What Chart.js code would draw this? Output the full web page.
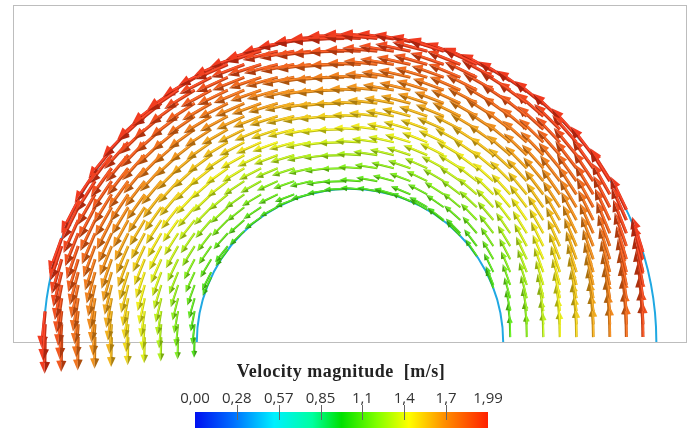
<!DOCTYPE html>
<html>
<head>
<meta charset="utf-8">
<script src="https://cdn.jsdelivr.net/npm/chart.js@4.4.1/dist/chart.umd.min.js"></script>
<style>
  body { margin: 0; background: #fff; }
  #wrap { position: relative; width: 696px; height: 430px; }
  #legendTitle {
    position: absolute; left: 221px; width: 240px; top: 362px; text-align: center;
    font: bold 18px "Liberation Serif"; line-height: 18px; letter-spacing: 0.5px; color: #222; white-space: pre;
  }
  .barLabel {
    position: absolute; top: 390px; width: 40px; margin-left: -20px; text-align: center;
    font: 15px "Open Sans"; line-height: 15px; color: #333;
  }
  #bar { position: absolute; left: 195px; top: 412px; width: 293px; height: 16px; }
  .barTick { position: absolute; top: 405px; width: 1px; height: 15px; background: #666; }
</style>
</head>
<body>
<div id="wrap">
  <canvas id="mainChart" width="696" height="430"></canvas>
  <div id="legendTitle">Velocity magnitude  [m/s]</div>
  <div id="bar"></div>
</div>
<script>
// glyph sample grid (chart units, outer wall radius = 1)
const gridX = [-0.995, -0.941, -0.887, -0.832, -0.778, -0.724, -0.670, -0.616, -0.561, -0.507,
               -0.453, -0.399, -0.345, -0.290, -0.236, -0.182, -0.128, -0.074, -0.019, 0.035,
               0.089, 0.143, 0.197, 0.252, 0.306, 0.360, 0.414, 0.468, 0.523, 0.577,
               0.631, 0.685, 0.739, 0.794, 0.848, 0.902, 0.956];
const gridY = [0.016, 0.058, 0.101, 0.143, 0.186, 0.228, 0.270, 0.313, 0.355, 0.398,
               0.440, 0.482, 0.525, 0.567, 0.610, 0.652, 0.694, 0.737, 0.779, 0.822,
               0.864, 0.906, 0.949, 0.991];
const wallRadius = [0.5, 1.0];

// velocity magnitude read across the gap (radius -> m/s), flow turns counter-clockwise
const speedRadius = [0.5, 0.75, 1.0];
const speedValue = [1.10, 1.56, 1.99];

// colour bar
const barLabels = ['0,00', '0,28', '0,57', '0,85', '1,1', '1,4', '1,7', '1,99'];
const barMin = 0;
const barMax = 1.99;
const colorStops = [
    [0.00, [0, 16, 240]],
    [0.13, [0, 110, 255]],
    [0.27, [0, 240, 255]],
    [0.40, [0, 255, 160]],
    [0.50, [0, 224, 0]],
    [0.62, [128, 255, 0]],
    [0.73, [255, 255, 0]],
    [0.85, [255, 144, 0]],
    [1.00, [255, 32, 0]]
];

const glyphScale = 0.0605; // glyph length per m/s, in chart units

function speedAt(r) {
    for (let i = 1; i < speedRadius.length; i++) {
        if (r <= speedRadius[i]) {
            const t = (r - speedRadius[i - 1]) / (speedRadius[i] - speedRadius[i - 1]);
            return speedValue[i - 1] + (speedValue[i] - speedValue[i - 1]) * t;
        }
    }
    return speedValue[speedValue.length - 1];
}

function glyph(x, y) {
    const r = Math.hypot(x, y);
    const s = speedAt(r);
    return { x: x, y: y, u: -s * y / r, v: s * x / r, speed: s };
}

function buildPoints() {
    const pts = [];
    // nodes where the grid columns cut the walls
    wallRadius.forEach((rw) => {
        gridX.forEach((x) => {
            if (Math.abs(x) < rw) pts.push(glyph(x, Math.sqrt(rw * rw - x * x)));
        });
    });
    gridY.forEach((y) => {
        gridX.forEach((x) => {
            const r = Math.hypot(x, y);
            if (r < wallRadius[0] || r > wallRadius[1]) return;
            pts.push(glyph(x, y));
        });
    });
    return pts;
}

function colorFor(speed) {
    const f = Math.min(1, Math.max(0, (speed - barMin) / (barMax - barMin)));
    for (let i = 1; i < colorStops.length; i++) {
        const [p1, c1] = colorStops[i];
        const [p0, c0] = colorStops[i - 1];
        if (f <= p1) {
            const t = (f - p0) / (p1 - p0);
            return c0.map((c, j) => c + (c1[j] - c) * t);
        }
    }
    return colorStops[colorStops.length - 1][1];
}

function shade(rgb, k, add) {
    return 'rgb(' + rgb.map(c => Math.round(Math.min(255, c * k + add))).join(',') + ')';
}

function drawArrow(ctx, x0, y0, x1, y1, rgb) {
    const dx = x1 - x0, dy = y1 - y0;
    const L = Math.hypot(dx, dy);
    const ux = dx / L, uy = dy / L, nx = -uy, ny = ux;
    const hl = 0.32 * L, hw = 0.145 * L, sw = Math.max(2, 0.088 * L);
    const bx = x1 - ux * hl, by = y1 - uy * hl;

    ctx.lineCap = 'butt';
    ctx.strokeStyle = shade(rgb, 0.68, 22);
    ctx.lineWidth = sw;
    ctx.beginPath();
    ctx.moveTo(x0, y0);
    ctx.lineTo(bx + ux, by + uy);
    ctx.stroke();
    ctx.strokeStyle = shade(rgb, 0.84, 45);
    ctx.lineWidth = sw * 0.5;
    ctx.beginPath();
    ctx.moveTo(x0 + nx * sw * 0.15, y0 + ny * sw * 0.15);
    ctx.lineTo(bx + nx * sw * 0.15, by + ny * sw * 0.15);
    ctx.stroke();

    ctx.fillStyle = shade(rgb, 0.82, 32);
    ctx.beginPath();
    ctx.moveTo(x1, y1);
    ctx.lineTo(bx + nx * hw, by + ny * hw);
    ctx.lineTo(bx - ux * 0.5, by - uy * 0.5);
    ctx.closePath();
    ctx.fill();

    ctx.fillStyle = shade(rgb, 0.62, 14);
    ctx.beginPath();
    ctx.moveTo(x1, y1);
    ctx.lineTo(bx - nx * hw, by - ny * hw);
    ctx.lineTo(bx - ux * 0.5, by - uy * 0.5);
    ctx.closePath();
    ctx.fill();
}

const wallPlugin = {
    id: 'walls',
    beforeDatasetsDraw(chart) {
        const ctx = chart.ctx, area = chart.chartArea;
        const xs = chart.scales.x, ys = chart.scales.y;
        ctx.save();
        ctx.strokeStyle = '#bdbdbd';
        ctx.lineWidth = 1;
        ctx.strokeRect(area.left + 0.5, area.top + 0.5, area.right - area.left - 1, area.bottom - area.top);
        const cx = xs.getPixelForValue(0), cy = ys.getPixelForValue(0);
        ctx.strokeStyle = '#1fa8e2';
        ctx.lineWidth = 2;
        wallRadius.forEach((r) => {
            const rp = xs.getPixelForValue(r) - cx;
            ctx.beginPath();
            ctx.arc(cx, cy, rp, Math.PI, 2 * Math.PI);
            ctx.stroke();
        });
        ctx.restore();
    }
};

const arrowPlugin = {
    id: 'arrows',
    afterDatasetsDraw(chart) {
        const ctx = chart.ctx;
        const xs = chart.scales.x, ys = chart.scales.y;
        const data = chart.data.datasets[0].data;
        const meta = chart.getDatasetMeta(0);
        ctx.save();
        meta.data.forEach((pt, idx) => {
            const d = data[idx];
            const x1 = xs.getPixelForValue(d.x + d.u * glyphScale);
            const y1 = ys.getPixelForValue(d.y + d.v * glyphScale);
            drawArrow(ctx, pt.x, pt.y, x1, y1, colorFor(d.speed));
        });
        ctx.restore();
    }
};

function setupCanvas() {
    const ctx = document.getElementById('mainChart').getContext('2d');
    const config = {
        type: 'scatter',
        data: {
            datasets: [{
                label: 'Velocity',
                data: buildPoints(),
                pointRadius: 0,
                pointHoverRadius: 0
            }]
        },
        options: {
            responsive: false,
            animation: false,
            devicePixelRatio: 1,
            layout: { padding: { left: 13, top: 5, right: 9, bottom: 88 } },
            plugins: {
                legend: { display: false },
                tooltip: { enabled: false }
            },
            scales: {
                x: { type: 'linear', min: -1.1, max: 1.1, display: false },
                y: { type: 'linear', min: 0, max: 1.1, display: false }
            }
        },
        plugins: [wallPlugin, arrowPlugin]
    };
    return new Chart(ctx, config);
}

function setupColorBar() {
    const wrap = document.getElementById('wrap');
    const bar = document.getElementById('bar');
    bar.style.background = 'linear-gradient(to right, ' +
        colorStops.map(([p, c]) => 'rgb(' + c.join(',') + ') ' + (p * 100) + '%').join(', ') + ')';
    const left = 195, width = 293;
    barLabels.forEach((txt, i) => {
        const x = left + width * i / (barLabels.length - 1);
        const lab = document.createElement('div');
        lab.className = 'barLabel';
        lab.style.left = x + 'px';
        lab.textContent = txt;
        wrap.appendChild(lab);
        if (i > 0 && i < barLabels.length - 1) {
            const tick = document.createElement('div');
            tick.className = 'barTick';
            tick.style.left = Math.round(x) + 'px';
            wrap.appendChild(tick);
        }
    });
}

const mainChart = setupCanvas();
setupColorBar();
</script>
</body>
</html>
